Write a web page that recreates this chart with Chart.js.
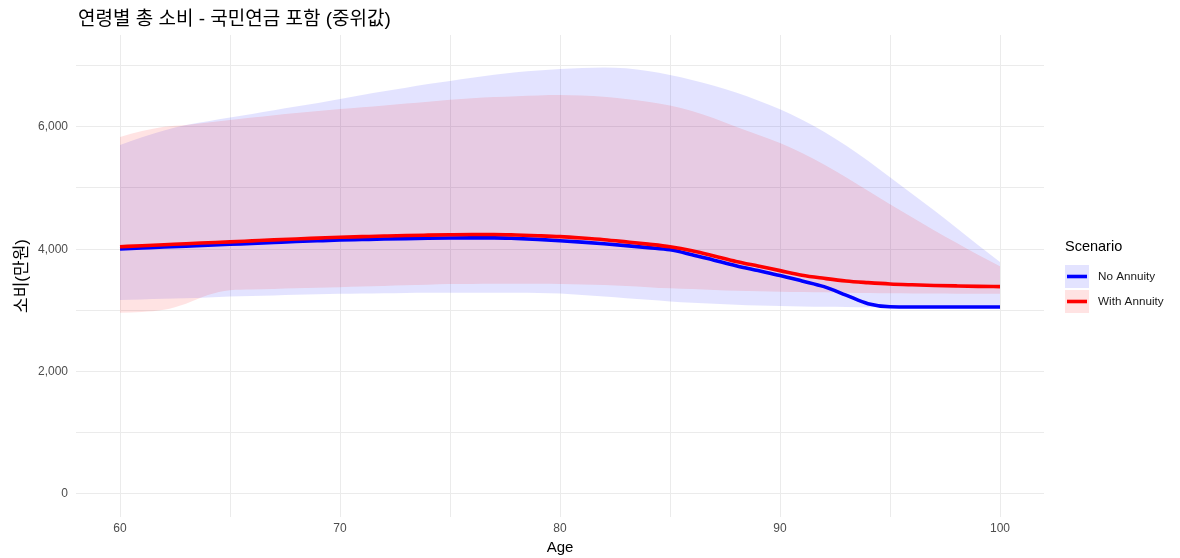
<!DOCTYPE html>
<html>
<head>
<meta charset="utf-8">
<script src="https://cdn.jsdelivr.net/npm/chart.js@4"></script>
<style>
  html, body { margin: 0; padding: 0; background: #ffffff; }
  #wrap { width: 1180px; height: 558px; position: relative; }
</style>
</head>
<body>
<div id="wrap"><canvas id="chart" width="1180" height="558"></canvas></div>
<script>
// Age (x axis)
const ages = [60, 61, 62, 63, 64, 65, 66, 67, 68, 69, 70, 71, 72, 73, 74, 75, 76, 77, 78, 79, 80,
              81, 82, 83, 84, 85, 86, 87, 88, 89, 90, 91, 92, 93, 94, 95, 96, 97, 98, 99, 100];

// Median total consumption (만원)
const medianNoAnnuity = [4003, 4019, 4035, 4050, 4065, 4080, 4095, 4110, 4125, 4138, 4150,
                         4158, 4166, 4173, 4179, 4183, 4185, 4185, 4175, 4160, 4139,
                         4115, 4088, 4058, 4025, 3990, 3910, 3820, 3730, 3650, 3570,
                         3480, 3388, 3250, 3110, 3060, 3056, 3056, 3056, 3056, 3056];
const medianWithAnnuity = [4040, 4057, 4073, 4090, 4105, 4120, 4136, 4152, 4167, 4181, 4195,
                           4205, 4215, 4224, 4230, 4235, 4239, 4240, 4232, 4220, 4205,
                           4182, 4155, 4120, 4083, 4040, 3975, 3890, 3800, 3725, 3650,
                           3575, 3524, 3480, 3453, 3431, 3418, 3408, 3400, 3393, 3388];

// Ribbon bounds
const upperNoAnnuity = [5703, 5830, 5940, 6030, 6090, 6150, 6210, 6270, 6330, 6390, 6455,
                        6520, 6580, 6640, 6700, 6750, 6800, 6850, 6890, 6920, 6945,
                        6962, 6970, 6955, 6910, 6845, 6765, 6670, 6560, 6430, 6285,
                        6115, 5920, 5695, 5445, 5175, 4905, 4635, 4355, 4070, 3790];
const lowerNoAnnuity = [3170, 3180, 3190, 3200, 3212, 3225, 3235, 3245, 3255, 3262, 3270,
                        3275, 3280, 3285, 3288, 3290, 3290, 3289, 3287, 3283, 3275,
                        3252, 3227, 3200, 3172, 3147, 3126, 3109, 3094, 3081, 3070,
                        3063, 3058, 3054, 3050, 3048, 3046, 3045, 3045, 3045, 3045];
const upperWithAnnuity = [5835, 5930, 6000, 6030, 6070, 6110, 6150, 6190, 6225, 6260, 6290,
                          6320, 6350, 6380, 6410, 6440, 6465, 6485, 6500, 6513, 6518,
                          6510, 6490, 6455, 6410, 6350, 6260, 6140, 6000, 5870, 5735,
                          5570, 5385, 5175, 4955, 4735, 4520, 4310, 4110, 3910, 3720];
const lowerWithAnnuity = [2960, 2975, 3010, 3110, 3250, 3330, 3340, 3350, 3360, 3370, 3380,
                          3390, 3400, 3410, 3420, 3430, 3432, 3434, 3435, 3435, 3432,
                          3425, 3415, 3400, 3380, 3360, 3348, 3335, 3322, 3312, 3305,
                          3300, 3295, 3290, 3285, 3280, 3278, 3276, 3274, 3272, 3270];

// Tick positions
const xTicks = [60, 65, 70, 75, 80, 85, 90, 95, 100];
const xTickLabels = ['60', '', '70', '', '80', '', '90', '', '100'];
const yTicks = [0, 1000, 2000, 3000, 4000, 5000, 6000, 7000];
const yTickLabels = ['0', '', '2,000', '', '4,000', '', '6,000', ''];

const scenarios = ['No Annuity', 'With Annuity'];
const titleText = '연령별 총 소비 - 국민연금 포함 (중위값)';

const LATIN = '"Liberation Sans", Arial, "Noto Sans CJK KR", sans-serif';
const BLUE = '#0000FF', RED = '#FF0000';
const BLUE_FILL = 'rgba(0,0,255,0.11)', RED_FILL = 'rgba(255,0,0,0.11)';

const toPoints = vals => ages.map((a, i) => ({ x: a, y: vals[i] }));

function lineSet(label, vals, color) {
  return { label, data: toPoints(vals), borderColor: color, borderWidth: 3.6,
           pointRadius: 0, fill: false, cubicInterpolationMode: 'monotone' };
}
function bandSet(label, vals, fill, bg) {
  return { label, data: toPoints(vals), borderColor: 'rgba(0,0,0,0)', borderWidth: 0,
           backgroundColor: bg, pointRadius: 0, fill, cubicInterpolationMode: 'monotone' };
}

// Title and legend drawn onto the canvas
const decorations = {
  id: 'decorations',
  afterDraw(chart) {
    const ctx = chart.ctx;
    ctx.save();
    ctx.fillStyle = '#000000';
    ctx.textAlign = 'left';
    ctx.textBaseline = 'middle';
    ctx.font = '19px ' + LATIN;
    ctx.fillText(titleText, 78, 20);

    ctx.font = '14.5px ' + LATIN;
    ctx.fillText('Scenario', 1065, 247);

    const keys = [
      { label: scenarios[0], fill: BLUE_FILL, color: BLUE, top: 265 },
      { label: scenarios[1], fill: RED_FILL, color: RED, top: 290 }
    ];
    keys.forEach(k => {
      ctx.fillStyle = k.fill;
      ctx.fillRect(1065, k.top, 24, 23);
      ctx.strokeStyle = k.color;
      ctx.lineWidth = 3.6;
      ctx.beginPath();
      ctx.moveTo(1067, k.top + 11.5);
      ctx.lineTo(1087, k.top + 11.5);
      ctx.stroke();
      ctx.fillStyle = '#1a1a1a';
      ctx.font = '11.7px ' + LATIN;
      ctx.fillText(k.label, 1098, k.top + 12);
    });
    ctx.restore();
  }
};

new Chart(document.getElementById('chart'), {
  type: 'line',
  data: {
    datasets: [
      lineSet(scenarios[1], medianWithAnnuity, RED),
      lineSet(scenarios[0], medianNoAnnuity, BLUE),
      bandSet('With Annuity upper', upperWithAnnuity, '+1', RED_FILL),
      bandSet('With Annuity lower', lowerWithAnnuity, false, RED_FILL),
      bandSet('No Annuity upper', upperNoAnnuity, '+1', BLUE_FILL),
      bandSet('No Annuity lower', lowerNoAnnuity, false, BLUE_FILL)
    ]
  },
  options: {
    responsive: false,
    animation: false,
    devicePixelRatio: 1,
    layout: { padding: { left: 0, right: 136, top: 35, bottom: 0 } },
    plugins: {
      legend: { display: false },
      title: { display: false },
      tooltip: { enabled: false }
    },
    scales: {
      x: {
        type: 'linear',
        min: 58, max: 102,
        afterBuildTicks: s => { s.ticks = xTicks.map(v => ({ value: v })); },
        afterFit: s => { s.height = 41; },
        grid: { color: '#EBEBEB', lineWidth: 1, drawTicks: false },
        border: { display: false },
        ticks: {
          autoSkip: false, maxRotation: 0, padding: 4,
          color: '#4D4D4D', font: { family: LATIN, size: 12 },
          callback: (v) => xTickLabels[xTicks.indexOf(v)]
        },
        title: { display: true, text: 'Age', color: '#000000',
                 font: { family: LATIN, size: 15 }, padding: { top: 0, bottom: 1 } }
      },
      y: {
        min: -376, max: 7500,
        afterBuildTicks: s => { s.ticks = yTicks.map(v => ({ value: v })); },
        afterFit: s => { s.width = 76; },
        grid: { color: '#EBEBEB', lineWidth: 1, drawTicks: false },
        border: { display: false },
        ticks: {
          autoSkip: false, padding: 8,
          color: '#4D4D4D', font: { family: LATIN, size: 12 },
          callback: (v) => yTickLabels[yTicks.indexOf(v)]
        },
        title: { display: true, text: '소비(만원)', color: '#000000',
                 font: { family: LATIN, size: 17 }, padding: { top: 12, bottom: 0 } }
      }
    }
  },
  plugins: [decorations]
});
</script>
</body>
</html>
